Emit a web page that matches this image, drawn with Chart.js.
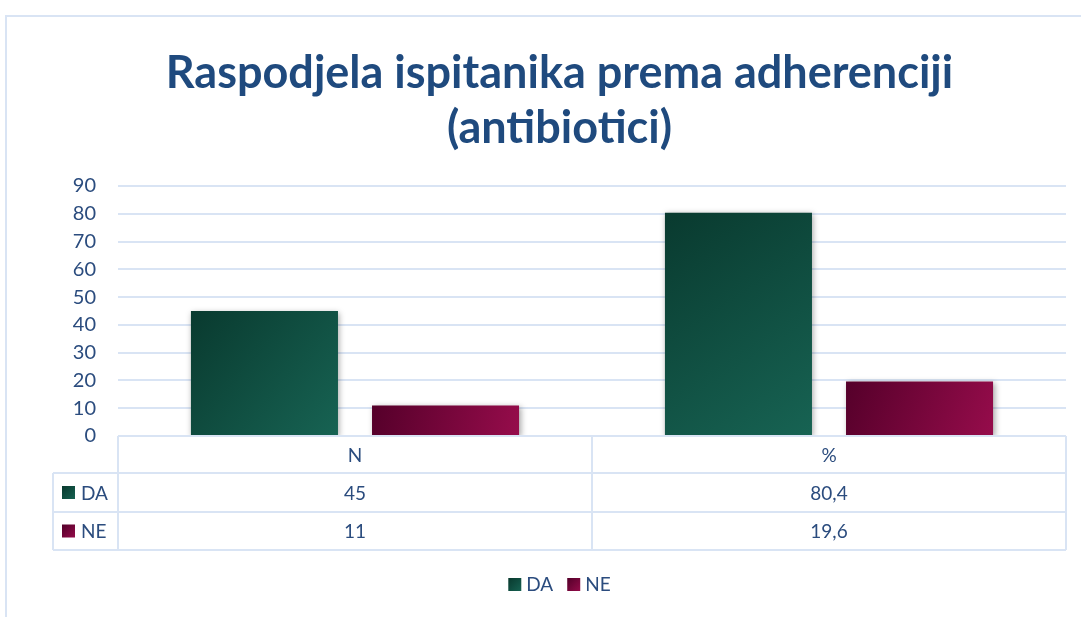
<!DOCTYPE html>
<html>
<head>
<meta charset="utf-8">
<script src="https://cdn.jsdelivr.net/npm/chart.js@4/dist/chart.umd.min.js"></script>
<style>
  html, body { margin: 0; padding: 0; background: #ffffff; }
  #wrap { position: relative; width: 1081px; height: 617px; }
</style>
</head>
<body>
<div id="wrap"><canvas id="c" width="1081" height="617"></canvas></div>
<script>
// ---- data ----
const categories = ['N', '%'];
const seriesNames = ['DA', 'NE'];
const daValues = [45, 80.4];
const neValues = [11, 19.6];
const yTickMax = 90;
const yTickStep = 10;
const titleLines = ['Raspodjela ispitanika prema adherenciji', '(antibiotici)'];

// ---- styles ----
const TEXT_COLOR = '#2B4C7E';
const TITLE_COLOR = '#1F4A7E';
const GRID_COLOR = '#D9E4F4';
const FONT = 'Lato, "Noto Sans", sans-serif';
const CAT_PCT = 0.764;
const BAR_PCT = 0.812;
const seriesColors = [
  ['#093A2F', '#176353', '#11503F'],
  ['#55002A', '#960C4B', '#770636']
];

function barGradient(ctx) {
  const chart = ctx.chart;
  const pair = seriesColors[ctx.datasetIndex];
  if (!chart.chartArea || ctx.type !== 'data') return pair[2];
  const xs = chart.scales.x, ys = chart.scales.y;
  const catW = xs.width / categories.length;
  const slot = catW * CAT_PCT / seriesNames.length;
  const barW = slot * BAR_PCT;
  const cx = xs.getPixelForValue(ctx.dataIndex) + (ctx.datasetIndex - (seriesNames.length - 1) / 2) * slot;
  const top = ys.getPixelForValue(ctx.raw);
  const base = ys.getPixelForValue(0);
  const g = chart.ctx.createLinearGradient(cx - barW / 2, top, cx + barW / 2, base);
  g.addColorStop(0, pair[0]);
  g.addColorStop(1, pair[1]);
  return g;
}

function fmt(v) { return String(v).replace('.', ','); }

const frameAndTable = {
  id: 'frameAndTable',
  beforeDraw(chart) {
    const c = chart.ctx;
    c.save();
    c.strokeStyle = GRID_COLOR;
    c.lineWidth = 2;
    c.beginPath();
    c.moveTo(6, 700);
    c.lineTo(6, 16);
    c.lineTo(1100, 16);
    c.stroke();
    // title
    c.fillStyle = TITLE_COLOR;
    c.font = 'bold 45px ' + FONT;
    c.textAlign = 'center';
    c.textBaseline = 'middle';
    const tx = (chart.chartArea.left - 65 + chart.chartArea.right) / 2;
    titleLines.forEach((t, i) => c.fillText(t, tx, 73 + i * 55));
    c.restore();
  },
  beforeDatasetsDraw(chart) {
    const c = chart.ctx;
    c.save();
    c.shadowColor = 'rgba(0,0,0,0.35)';
    c.shadowBlur = 6;
    c.shadowOffsetX = 1.5;
    c.shadowOffsetY = 1.5;
  },
  afterDatasetsDraw(chart) {
    chart.ctx.restore();
  },
  afterDraw(chart) {
    const c = chart.ctx;
    const ca = chart.chartArea;
    const xs = chart.scales.x;
    const L = ca.left, R = ca.right, B = ca.bottom;
    const keyLeft = L - 65;
    const rows = [B, B + 37, B + 76, B + 114];
    const bounds = [L];
    for (let i = 0; i < categories.length - 1; i++) {
      bounds.push((xs.getPixelForValue(i) + xs.getPixelForValue(i + 1)) / 2);
    }
    bounds.push(R);
    c.save();
    c.strokeStyle = GRID_COLOR;
    c.lineWidth = 2;
    c.beginPath();
    c.moveTo(L, rows[0]); c.lineTo(R, rows[0]);
    for (let r = 1; r < rows.length; r++) { c.moveTo(keyLeft, rows[r]); c.lineTo(R, rows[r]); }
    bounds.forEach(x => { c.moveTo(x, rows[0]); c.lineTo(x, rows[3]); });
    c.moveTo(keyLeft, rows[1]); c.lineTo(keyLeft, rows[3]);
    c.stroke();

    c.fillStyle = TEXT_COLOR;
    c.font = '19px ' + FONT;
    c.textAlign = 'center';
    c.textBaseline = 'middle';
    categories.forEach((cat, i) => {
      c.fillText(cat, xs.getPixelForValue(i), (rows[0] + rows[1]) / 2 + 1);
    });
    const allValues = [daValues, neValues];
    allValues.forEach((vals, s) => {
      const ym = (rows[s + 1] + rows[s + 2]) / 2 + 1;
      vals.forEach((v, i) => {
        c.fillStyle = TEXT_COLOR;
        c.textAlign = 'center';
        c.fillText(fmt(v), xs.getPixelForValue(i), ym);
      });
      const kx = keyLeft + 9, ks = 13;
      const g = c.createLinearGradient(kx, ym - ks / 2, kx + ks, ym + ks / 2);
      g.addColorStop(0, seriesColors[s][0]);
      g.addColorStop(1, seriesColors[s][1]);
      c.fillStyle = g;
      c.fillRect(kx, ym - ks / 2 - 1, ks, ks);
      c.fillStyle = TEXT_COLOR;
      c.textAlign = 'left';
      c.fillText(seriesNames[s], kx + ks + 6, ym);
    });

    // bottom legend
    const ly = 585;
    c.font = '19px ' + FONT;
    const itemW = seriesNames.map(n => 13 + 5 + c.measureText(n).width);
    const gap = 14;
    const totalW = itemW.reduce((a, b) => a + b, 0) + gap * (seriesNames.length - 1);
    let x = (keyLeft + R) / 2 - totalW / 2;
    seriesNames.forEach((n, s) => {
      const g = c.createLinearGradient(x, ly - 6, x + 13, ly + 7);
      g.addColorStop(0, seriesColors[s][0]);
      g.addColorStop(1, seriesColors[s][1]);
      c.fillStyle = g;
      c.fillRect(x, ly - 7, 13, 13);
      c.fillStyle = TEXT_COLOR;
      c.textAlign = 'left';
      c.fillText(n, x + 18, ly);
      x += itemW[s] + gap;
    });
    c.restore();
  }
};

new Chart(document.getElementById('c'), {
  type: 'bar',
  data: {
    labels: categories,
    datasets: [
      { label: seriesNames[0], data: daValues, backgroundColor: barGradient },
      { label: seriesNames[1], data: neValues, backgroundColor: barGradient }
    ]
  },
  options: {
    responsive: false,
    animation: false,
    devicePixelRatio: 1,
    layout: { padding: { left: 5, right: 15, top: 186, bottom: 67 } },
    datasets: { bar: { categoryPercentage: CAT_PCT, barPercentage: BAR_PCT } },
    plugins: {
      legend: { display: false },
      tooltip: { enabled: false },
      title: { display: false }
    },
    scales: {
      x: {
        grid: { display: false },
        border: { display: false },
        ticks: { display: false },
        afterFit(scale) { scale.height = 114; }
      },
      y: {
        min: 0,
        max: yTickMax,
        ticks: { stepSize: yTickStep, color: TEXT_COLOR, font: { family: FONT, size: 20 }, padding: 22 },
        grid: { color: GRID_COLOR, lineWidth: 2, drawTicks: false },
        border: { display: false },
        afterFit(scale) { scale.width = 113; }
      }
    }
  },
  plugins: [frameAndTable]
});
</script>
</body>
</html>
